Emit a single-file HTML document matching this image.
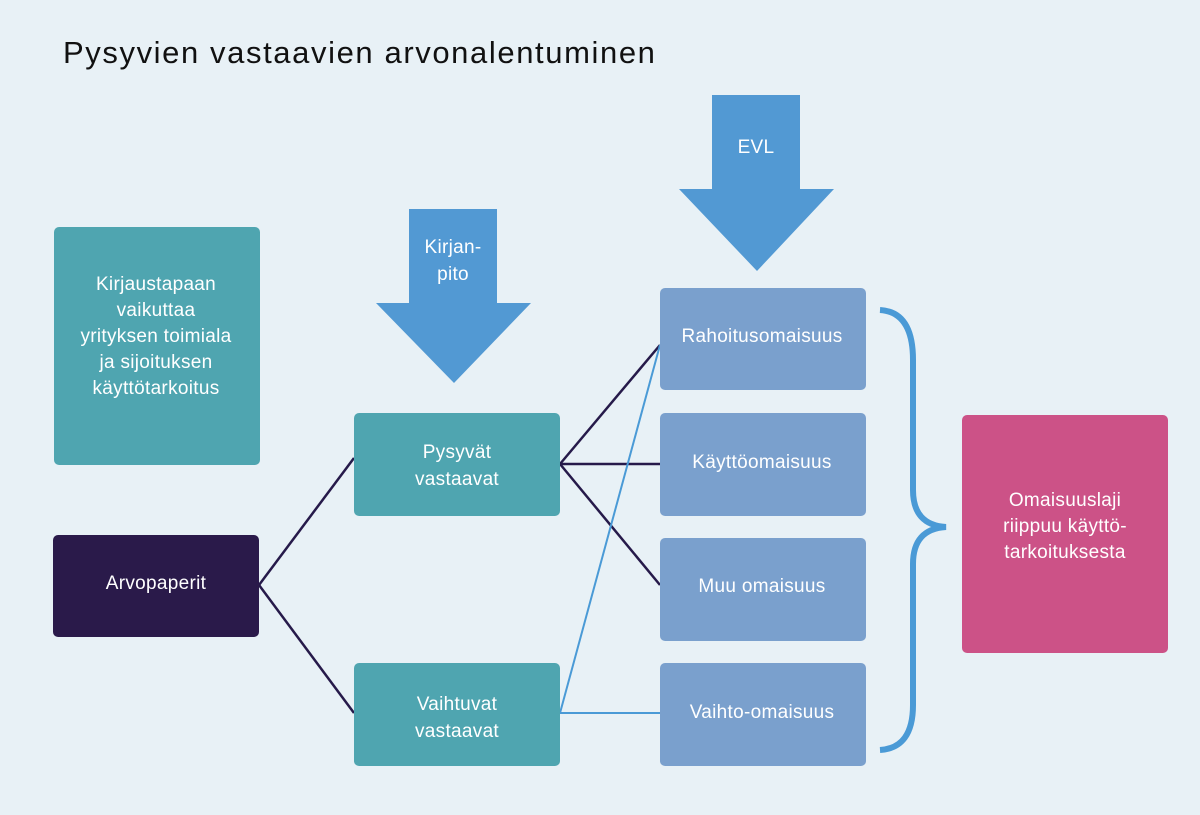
<!DOCTYPE html>
<html><head><meta charset="utf-8"><style>
body{margin:0;background:#e8f1f6;}
svg{display:block;font-family:"Liberation Sans",sans-serif;}
text{fill:#fff;font-size:19px;text-anchor:middle;letter-spacing:0.3px;}
</style></head><body>
<svg width="1200" height="815" viewBox="0 0 1200 815">
<rect width="1200" height="815" fill="#e8f1f6"/>
<text x="63" y="63" style="fill:#111;font-size:31px;text-anchor:start;letter-spacing:1.6px">Pysyvien vastaavien arvonalentuminen</text>
<g stroke="#261a4a" stroke-width="2.5" fill="none">
<line x1="259" y1="585" x2="354" y2="458"/>
<line x1="259" y1="585" x2="354" y2="713"/>
<line x1="560" y1="464" x2="660" y2="345"/>
<line x1="560" y1="464" x2="660" y2="464"/>
<line x1="560" y1="464" x2="660" y2="585"/>
</g>
<g stroke="#4a9ad6" stroke-width="2" fill="none">
<line x1="560" y1="713" x2="660" y2="345"/>
<line x1="560" y1="713" x2="660" y2="713"/>
</g>
<polygon points="409,209 497,209 497,303 531,303 454,383 376,303 409,303" fill="#5299d3"/>
<polygon points="712,95 800,95 800,189 834,189 757,271 679,189 712,189" fill="#5299d3"/>
<text x="453" y="253">Kirjan-</text><text x="453" y="280">pito</text>
<text x="756" y="153">EVL</text>
<rect x="54" y="227" width="206" height="238" rx="5" fill="#4fa5b0"/>
<text x="156" y="290">Kirjaustapaan</text><text x="156" y="316">vaikuttaa</text><text x="156" y="342">yrityksen toimiala</text><text x="156" y="368">ja sijoituksen</text><text x="156" y="394">käyttötarkoitus</text>
<rect x="53" y="535" width="206" height="102" rx="5" fill="#2a1a4a"/>
<text x="156" y="589">Arvopaperit</text>
<rect x="354" y="413" width="206" height="103" rx="5" fill="#4fa5b0"/>
<text x="457" y="458">Pysyvät</text><text x="457" y="485">vastaavat</text>
<rect x="354" y="663" width="206" height="103" rx="5" fill="#4fa5b0"/>
<text x="457" y="710">Vaihtuvat</text><text x="457" y="737">vastaavat</text>
<g fill="#7aa0cd">
<rect x="660" y="288" width="206" height="102" rx="5"/>
<rect x="660" y="413" width="206" height="103" rx="5"/>
<rect x="660" y="538" width="206" height="103" rx="5"/>
<rect x="660" y="663" width="206" height="103" rx="5"/>
</g>
<text x="762" y="342">Rahoitusomaisuus</text>
<text x="762" y="468">Käyttöomaisuus</text>
<text x="762" y="592">Muu omaisuus</text>
<text x="762" y="718">Vaihto-omaisuus</text>
<rect x="962" y="415" width="206" height="238" rx="5" fill="#cc5287"/>
<text x="1065" y="506">Omaisuuslaji</text><text x="1065" y="532">riippuu käyttö-</text><text x="1065" y="558">tarkoituksesta</text>
<path d="M880,310 Q913,312 913,360 L913,490 Q913,525 946,527 Q913,529 913,564 L913,705 Q913,748 880,750" stroke="#4a9ad6" stroke-width="6" fill="none"/>
</svg>
</body></html>
